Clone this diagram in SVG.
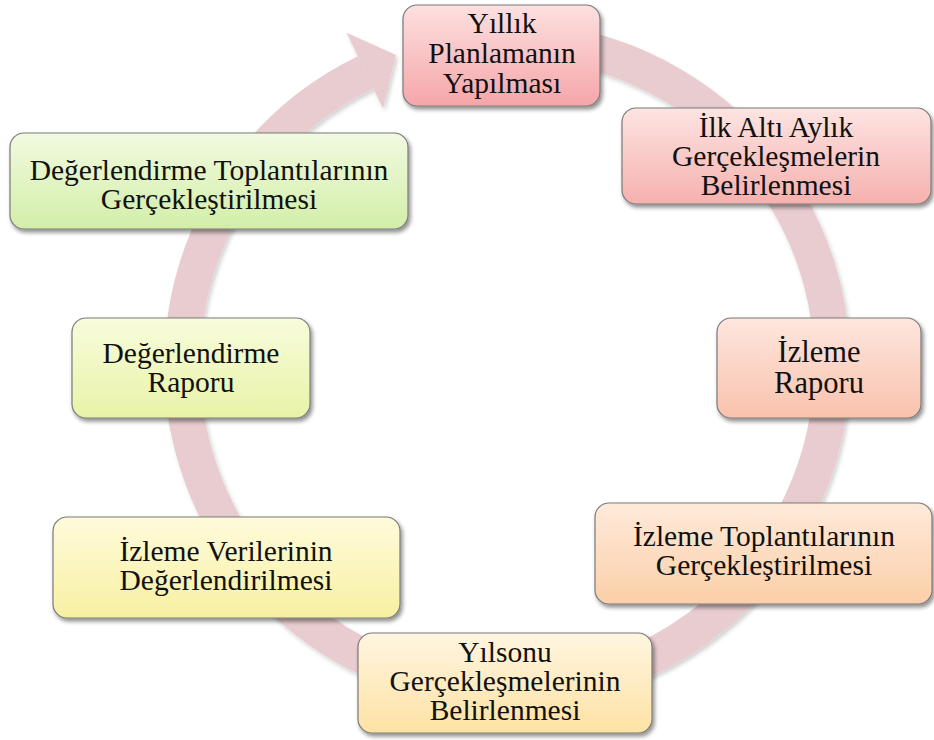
<svg xmlns="http://www.w3.org/2000/svg" width="934" height="740" viewBox="0 0 934 740">
<defs>
<style>
.box{stroke:#7a7a7a;stroke-width:1.2;filter:url(#sh)}
.t{font-family:"Liberation Serif","Times New Roman",serif;font-size:29.5px;fill:#111;text-anchor:middle}
.big{font-size:30.5px}
.ring{fill:none;stroke:#e8cccf;stroke-width:36}
.head{fill:#e8cccf}
</style>
<filter id="sh" x="-10%" y="-10%" width="125%" height="130%">
<feGaussianBlur in="SourceAlpha" stdDeviation="2.2"/>
<feOffset dx="2" dy="3" result="b"/>
<feComponentTransfer><feFuncA type="linear" slope="0.45"/></feComponentTransfer>
<feMerge><feMergeNode/><feMergeNode in="SourceGraphic"/></feMerge>
</filter>
<filter id="rsh" x="-10%" y="-10%" width="120%" height="120%">
<feGaussianBlur in="SourceAlpha" stdDeviation="2"/>
<feOffset dx="1.5" dy="2.5"/>
<feComponentTransfer><feFuncA type="linear" slope="0.18"/></feComponentTransfer>
<feMerge><feMergeNode/><feMergeNode in="SourceGraphic"/></feMerge>
</filter>
<linearGradient id="g1" x1="0" y1="0" x2="0" y2="1"><stop offset="0" stop-color="#fde0e0"/><stop offset="1" stop-color="#f5a6a9"/></linearGradient>
<linearGradient id="g2" x1="0" y1="0" x2="0" y2="1"><stop offset="0" stop-color="#fde4e2"/><stop offset="1" stop-color="#f6b1ae"/></linearGradient>
<linearGradient id="g4" x1="0" y1="0" x2="0" y2="1"><stop offset="0" stop-color="#fee6de"/><stop offset="1" stop-color="#f9c2ad"/></linearGradient>
<linearGradient id="g6" x1="0" y1="0" x2="0" y2="1"><stop offset="0" stop-color="#feeadb"/><stop offset="1" stop-color="#fbcfa8"/></linearGradient>
<linearGradient id="g7" x1="0" y1="0" x2="0" y2="1"><stop offset="0" stop-color="#fff5e0"/><stop offset="1" stop-color="#fde2a4"/></linearGradient>
<linearGradient id="g8" x1="0" y1="0" x2="0" y2="1"><stop offset="0" stop-color="#fffbdb"/><stop offset="1" stop-color="#f7f0a2"/></linearGradient>
<linearGradient id="g5" x1="0" y1="0" x2="0" y2="1"><stop offset="0" stop-color="#f8fcdc"/><stop offset="1" stop-color="#e8f3a7"/></linearGradient>
<linearGradient id="g3" x1="0" y1="0" x2="0" y2="1"><stop offset="0" stop-color="#f1fae0"/><stop offset="1" stop-color="#d3eea8"/></linearGradient>
</defs>
<rect width="934" height="740" fill="#ffffff"/>
<g id="connectors" filter="url(#rsh)">
<path class="ring" d="M 535.3 41.2 A 325 325 0 1 1 365.6 72.4"/>
<polygon class="head" points="346.5,32.8 396,55 383,108.5"/>
</g>
<g id="n1">
<rect class="box" x="403" y="5" width="197" height="101" rx="14" fill="url(#g1)"/>
<text class="t" x="502" y="33">Yıllık</text>
<text class="t" x="502" y="63">Planlamanın</text>
<text class="t" x="502" y="93">Yapılması</text>
</g>
<g id="n2">
<rect class="box" x="622" y="108" width="309" height="96" rx="14" fill="url(#g2)"/>
<text class="t" x="776" y="137">İlk Altı Aylık</text>
<text class="t" x="776" y="166">Gerçekleşmelerin</text>
<text class="t" x="776" y="195">Belirlenmesi</text>
</g>
<g id="n3">
<rect class="box" x="717" y="318" width="204" height="100" rx="14" fill="url(#g4)"/>
<text class="t big" x="819" y="362">İzleme</text>
<text class="t big" x="819" y="393">Raporu</text>
</g>
<g id="n4">
<rect class="box" x="595" y="503" width="337" height="101" rx="14" fill="url(#g6)"/>
<text class="t" x="764" y="546">İzleme Toplantılarının</text>
<text class="t" x="764" y="575">Gerçekleştirilmesi</text>
</g>
<g id="n5">
<rect class="box" x="358" y="633" width="294" height="100" rx="14" fill="url(#g7)"/>
<text class="t" x="505" y="662">Yılsonu</text>
<text class="t" x="505" y="691">Gerçekleşmelerinin</text>
<text class="t" x="505" y="720">Belirlenmesi</text>
</g>
<g id="n6">
<rect class="box" x="53" y="517" width="347" height="101" rx="14" fill="url(#g8)"/>
<text class="t" x="226" y="561">İzleme Verilerinin</text>
<text class="t" x="226" y="590">Değerlendirilmesi</text>
</g>
<g id="n7">
<rect class="box" x="72" y="318" width="238" height="100" rx="14" fill="url(#g5)"/>
<text class="t" x="191" y="363">Değerlendirme</text>
<text class="t" x="191" y="392">Raporu</text>
</g>
<g id="n8">
<rect class="box" x="10" y="133" width="398" height="96" rx="14" fill="url(#g3)"/>
<text class="t" x="209" y="180">Değerlendirme Toplantılarının</text>
<text class="t" x="209" y="209">Gerçekleştirilmesi</text>
</g>
</svg>
